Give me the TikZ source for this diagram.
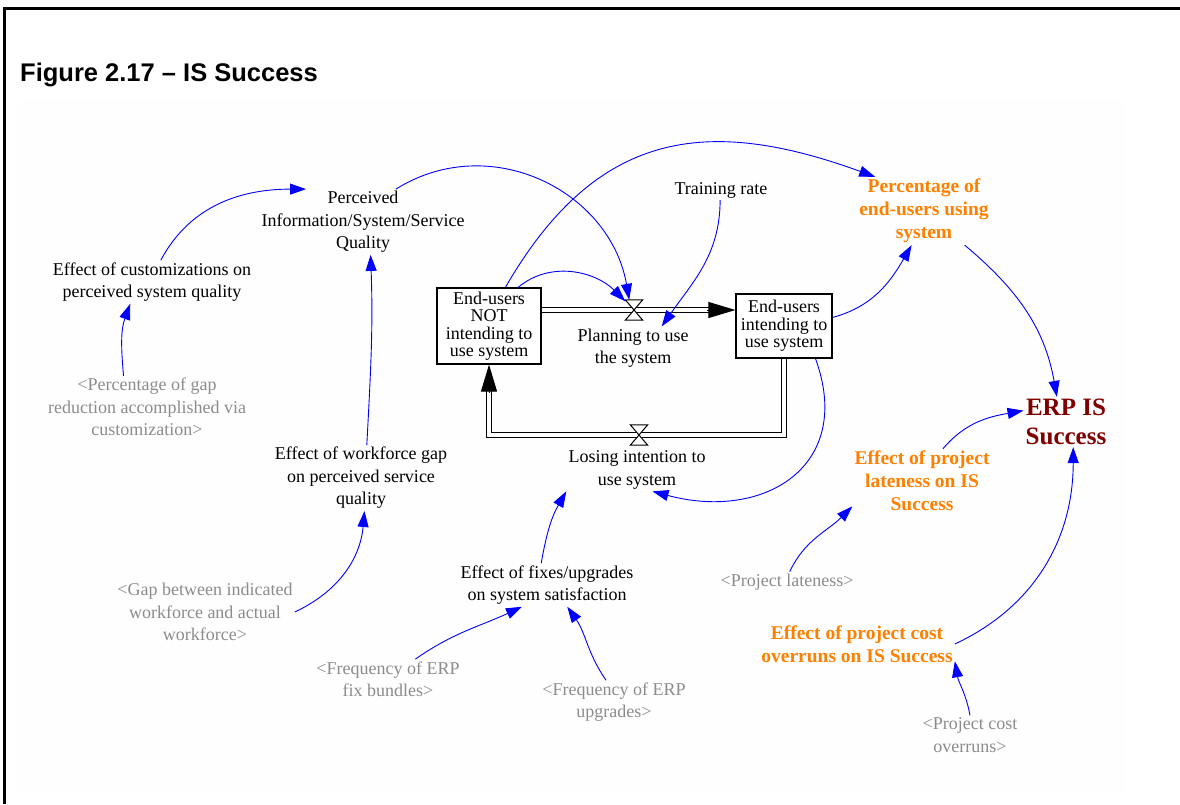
\documentclass[tikz,border=0pt]{standalone}
\usepackage{fontspec}
\setmainfont{Liberation Serif}
\newfontfamily\headfont{Liberation Sans}
\usepackage{tikz}
\usetikzlibrary{arrows.meta}
\usetikzlibrary{calc}
\definecolor{linkblue}{RGB}{0,0,255}
\definecolor{focusorange}{RGB}{255,128,0}
\definecolor{goalred}{RGB}{128,0,0}
\definecolor{ghostgray}{RGB}{140,140,140}
\definecolor{paper}{RGB}{254,254,254}

\begin{document}
\begin{tikzpicture}[
  x=1pt, y=-1pt,
  var/.style={align=center, inner sep=2pt, font=\fontsize{18}{22.5}\selectfont},
  ghost/.style={var, text=ghostgray},
  focus/.style={var, text=focusorange, font=\fontsize{19.5}{23}\selectfont\bfseries},
  goal/.style={var, text=goalred, font=\fontsize{25}{29}\selectfont\bfseries},
  stock/.style={draw, line width=1.2pt, fill=white, align=center, inner sep=0pt, font=\fontsize{18}{17.5}\selectfont},
  valve/.style={inner sep=0pt, minimum width=17pt, minimum height=20pt},
  pipe/.style={draw, line width=1.3pt, double=white, double distance=4pt},
  pipetip/.style={-{Triangle[length=27pt,width=16pt]}, line width=1pt},
  link/.style={-{Triangle[length=16pt,width=11pt]}, linkblue, line width=0.9pt}
]
\useasboundingbox (0,0) rectangle (1180,804);
\fill[white] (0,0) rectangle (1180,804);
\fill[paper] (18,100) rectangle (1124,792);
\draw[line width=3pt] (4.7,804) -- (4.7,8.7) -- (1180,8.7);
\node[anchor=base west, inner sep=0pt, font=\headfont\fontsize{25.5}{30}\selectfont\bfseries] (title) at (20,81) {Figure 2.17 – IS Success};

% stocks and flows
\node[stock, minimum width=104pt, minimum height=76pt] (S1) at (489,326) {End-users\\NOT\\intending to\\use system};
\node[stock, minimum width=96pt, minimum height=64pt] (S2) at (784,326) {End-users\\intending to\\use system};
\node[valve] (V1) at (634,310) {};
\node[valve] (V2) at (639,435) {};
\node[var] (plan) at (633,348) {Planning to use\\the system};
\node[var] (lose) at (637,470) {Losing intention to\\use system};

\draw[pipe, shorten >=26pt] (S1.east |- V1) -- (S2.west |- V1);
\draw[pipetip] ($(S2.west |- V1)+(-28,0)$) -- (S2.west |- V1);
\draw[pipe, shorten >=26pt] (S2.south) |- (V2.center) -| (S1.south);
\draw[pipetip] ($(S1.south)+(0,28)$) -- (S1.south);
\filldraw[fill=white, line width=1pt] (V1.north west) -- (V1.north east) -- (V1.south west) -- (V1.south east) -- cycle;
\filldraw[fill=white, line width=1pt] (V2.north west) -- (V2.north east) -- (V2.south west) -- (V2.south east) -- cycle;

% auxiliaries
\node[var] (PQ) at (363,222) {Perceived\\Information/System/Service\\Quality};
\node[var] (ECust) at (152,282) {Effect of customizations on\\perceived system quality};
\node[ghost] (PctGap) at (147,407) {<Percentage of gap\\reduction accomplished via\\customization>};
\node[var] (EWG) at (361,478) {Effect of workforce gap\\on perceived service\\quality};
\node[ghost] (GapW) at (205,612) {<Gap between indicated\\workforce and actual\\workforce>};
\node[var] (EFix) at (547,585) {Effect of fixes/upgrades\\on system satisfaction};
\node[ghost] (FreqFix) at (388,679) {<Frequency of ERP\\fix bundles>};
\node[ghost] (FreqUpg) at (614,702) {<Frequency of ERP\\upgrades>};
\node[var] (train) at (721,190) {Training rate};
\node[focus] (Pct) at (924,211) {Percentage of\\end-users using\\system};
\node[goal] (ERP) at (1066,422) {ERP IS\\Success};
\node[focus] (ELate) at (922,481) {Effect of project\\lateness on IS\\Success};
\node[ghost] (ProjLate) at (787,582) {<Project lateness>};
\node[focus] (ECost) at (857,644) {Effect of project cost\\overruns on IS Success};
\node[ghost] (ProjCost) at (970,735) {<Project cost\\overruns>};

% links
\draw[link] (ECust.68) to[out=62, in=180] (PQ.150);
\draw[link] (PctGap.127) to[out=95, in=250] (ECust.225);
\draw[link] (EWG.80) to[out=87, in=-88] (PQ.283);
\draw[link] (GapW.east) to[out=25, in=-95] (EWG.276);
\draw[link] (PQ.45) to[out=32, in=100, looseness=1.1] (V1.115);
\draw[link] (S1.53) to[out=40, in=135] (V1.135);
\draw[link] (S1.67) to[out=60, in=160, looseness=1.2] (Pct.145);
\draw[link] (train.265) to[out=-90, in=55] (plan.37);
\draw[link] (S2.10) to[out=15, in=240] (Pct.250);
\draw[link] (Pct.-40) to[out=-40, in=100] (ERP.110);
\draw[link] (S2.-46) to[out=-70, in=-15, looseness=1.4] (lose.306);
\draw[link] (EFix.105) to[out=80, in=-120] (lose.south west);
\draw[link] (FreqFix.36) to[out=35, in=-155] (EFix.221);
\draw[link] (FreqUpg.110) to[out=125, in=-55] (EFix.-47);
\draw[link] (ELate.57) to[out=50, in=190] (ERP.165);
\draw[link] (ProjLate.75) to[out=65, in=225] (ELate.200);
\draw[link] (ECost.east) to[out=25, in=-90] (ERP.286);
\draw[link] (ProjCost.north) to[out=100, in=-80] (ECost.-10);
\end{tikzpicture}
\end{document}
